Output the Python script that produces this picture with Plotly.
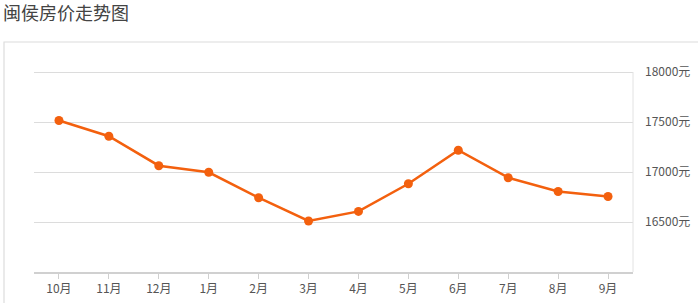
import plotly.graph_objects as go

months = ["10月", "11月", "12月", "1月", "2月", "3月", "4月", "5月", "6月", "7月", "8月", "9月"]
prices = [17515, 17358, 17063, 16997, 16743, 16510, 16606, 16882, 17218, 16943, 16805, 16755]
y_ticks = [16500, 17000, 17500, 18000]
y_tick_text = ["16500元", "17000元", "17500元", "18000元"]
title_text = "闽侯房价走势图"

W, H = 698, 303
L, R, T, B = 34, 633, 68, 272
pw, ph = R - L, B - T

def px_x(x):
    return (x - L) / pw

def px_y(y):
    return (B - y) / ph

color = "#f3600e"
font_family = "Noto Sans CJK SC, Noto Sans, sans-serif"

fig = go.Figure()
fig.add_trace(go.Scatter(
    x=months, y=prices, mode="lines+markers",
    line=dict(color=color, width=2.5),
    marker=dict(color=color, size=9),
    hoverinfo="x+y",
))

# panel outline
x0, x1 = px_x(4), px_x(720)
y0, y1 = px_y(330), px_y(42)
fig.add_shape(type="rect", xref="paper", yref="paper",
              x0=x0, x1=x1, y0=y0, y1=y1,
              line=dict(color="#dcdcdc", width=1.2), fillcolor="rgba(0,0,0,0)",
              layer="below")

fig.update_layout(
    width=W, height=H,
    margin=dict(l=L, r=W - R, t=T, b=H - B, pad=0, autoexpand=False),
    paper_bgcolor="white", plot_bgcolor="white",
    showlegend=False,
    font=dict(family=font_family, color="#555", size=12),
    title=dict(text=title_text, xref="container", yref="container",
               x=3 / W, xanchor="left", y=1 - 14 / H, yanchor="middle",
               font=dict(size=18, color="#444", family=font_family)),
    xaxis=dict(
        type="category", range=[-0.5, 11.5], automargin=False,
        showgrid=False, showline=True, linecolor="#d0d0d0", linewidth=2,
        ticks="outside", ticklen=5, tickcolor="#d0d0d0", tickwidth=1,
        tickfont=dict(size=12, color="#555"), zeroline=False, fixedrange=True,
    ),
    yaxis=dict(
        side="right", range=[16000, 18040], automargin=False,
        tickmode="array", tickvals=y_ticks, ticktext=y_tick_text,
        showgrid=True, gridcolor="#dcdcdc", gridwidth=1,
        showline=False,
        ticks="", ticklabelstandoff=11,
        tickfont=dict(size=12, color="#555"), zeroline=False, fixedrange=True,
    ),
)

# right border of plot area (from y range bottom to top gridline)
fig.add_shape(type="line", xref="paper", yref="y",
              x0=1, x1=1, y0=16000, y1=y_ticks[-1],
              line=dict(color="#e2e2e2", width=1))

fig.write_html("out.html")
